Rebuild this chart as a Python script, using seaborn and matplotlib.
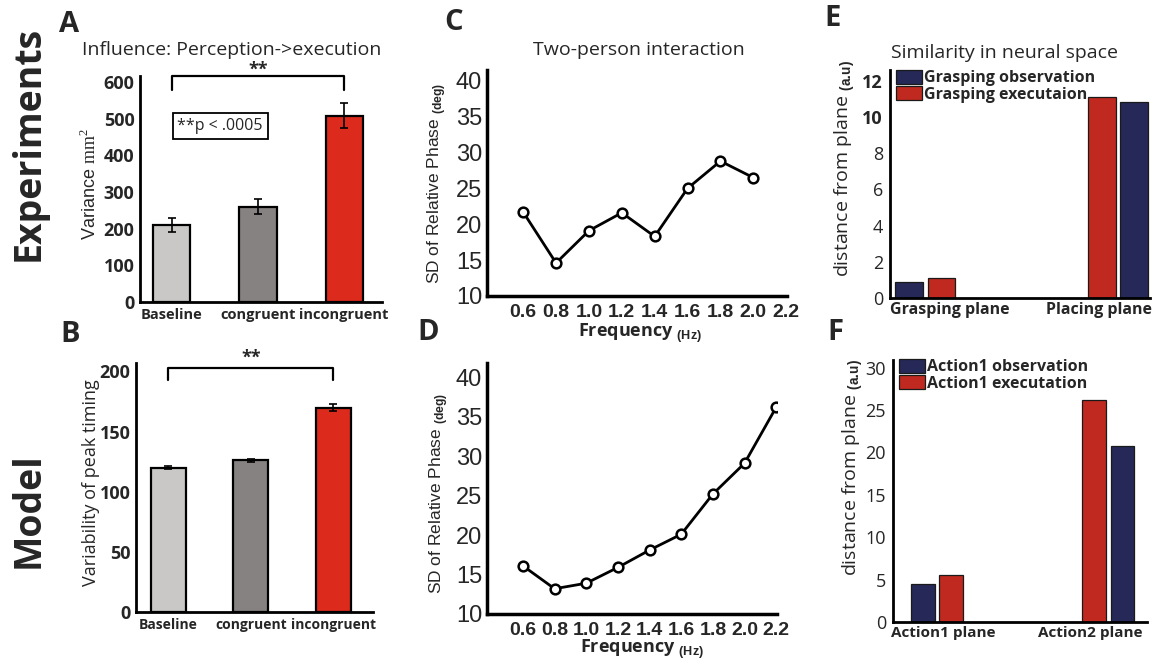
"""Figure: experiments vs model - variability, relative phase, neural distance."""

import numpy as np
import pandas as pd
import matplotlib
matplotlib.use('Agg')
import matplotlib.pyplot as plt
import seaborn as sns

sns.set_style('white')
plt.rcParams['font.family'] = ['Open Sans', 'DejaVu Sans']
plt.rcParams['mathtext.fontset'] = 'custom'
plt.rcParams['mathtext.rm'] = 'Liberation Serif'
plt.rcParams['mathtext.bf'] = 'Liberation Sans:bold'
plt.rcParams['mathtext.sf'] = 'Liberation Sans'

W, H = 1157, 661

# --- data ---
conditions = ['Baseline', 'congruent', 'incongruent']
exp_variance = [210, 260, 508]
exp_variance_err = [20, 20, 35]
model_timing = [120, 126, 170]
model_timing_err = [1.0, 1.5, 3.0]

exp_freq = [0.6, 0.8, 1.0, 1.2, 1.4, 1.6, 1.8, 2.0]
exp_sd_phase = [21.7, 14.6, 19.1, 21.6, 18.3, 25.0, 28.8, 26.5]
model_freq = [0.6, 0.8, 1.0, 1.2, 1.4, 1.6, 1.8, 2.0, 2.2]
model_sd_phase = [16.1, 13.2, 13.9, 15.9, 18.1, 20.1, 25.2, 29.1, 36.2]
freq_ticks = [0.6, 0.8, 1.0, 1.2, 1.4, 1.6, 1.8, 2.0, 2.2]

e_planes = ['Grasping plane', 'Placing plane']
e_series = ['Grasping observation', 'Grasping executaion']
e_observation = [0.9, 10.85]
e_execution = [1.1, 11.1]

f_planes = ['Action1 plane', 'Action2 plane']
f_series = ['Action1 observation', 'Action1 executation']
f_observation = [4.45, 20.8]
f_execution = [5.6, 26.2]

# bar order inside each plane (index into series): obs first, then reversed
pair_order = [[0, 1], [1, 0]]

BAR_COLORS = ['#c9c8c7', '#858281', '#dc2b1c']
NAVY = '#262858'
RED = '#c0291f'


def ax_rect(left, top, right, bottom):
    return [left / W, 1 - bottom / H, (right - left) / W, (bottom - top) / H]


def fig_text(fig, px, py, s, **kw):
    fig.text(px / W, 1 - py / H, s, ha='center', va='center', **kw)


def condition_bars(ax, values, errs, ylim, yticks, width, xfont=10.5):
    df = pd.DataFrame({'cond': conditions, 'val': values})
    sns.barplot(data=df, x='cond', y='val', hue='cond', palette=BAR_COLORS,
                saturation=1, legend=False, width=width, edgecolor='black',
                linewidth=1.6, ax=ax)
    ax.errorbar(range(len(values)), values, yerr=errs, fmt='none',
                ecolor='black', elinewidth=1.2, capsize=3, capthick=1.2)
    ax.set_ylim(*ylim)
    ax.set_yticks(yticks)
    ax.set_xlabel('')
    for s in ['top', 'right']:
        ax.spines[s].set_visible(False)
    for s in ['left', 'bottom']:
        ax.spines[s].set_linewidth(2)
        ax.spines[s].set_color('black')
    ax.tick_params(length=0, pad=4)
    for lab in ax.get_yticklabels():
        lab.set_fontweight('bold')
        lab.set_fontsize(13)
    for lab in ax.get_xticklabels():
        lab.set_fontweight('bold')
        lab.set_fontsize(xfont)


def bracket(ax, x0, x1, y, drop, star_y):
    ax.plot([x0, x0, x1, x1], [drop, y, y, drop], color='black', lw=1.6,
            clip_on=False)
    ax.text((x0 + x1) / 2, star_y, '**', ha='center', va='center',
            fontsize=13, fontweight='bold', clip_on=False)


def phase_line(ax, x, y, ylim, xlim):
    sns.lineplot(x=x, y=y, ax=ax, color='black', lw=2, marker='o',
                 markersize=7, markerfacecolor='white', markeredgecolor='black',
                 markeredgewidth=1.8)
    ax.set_xlim(*xlim)
    ax.set_ylim(*ylim)
    ax.set_yticks(range(10, 41, 5))
    ax.set_xticks(freq_ticks)
    ax.set_xticklabels([f'{v:.1f}' for v in freq_ticks], family='Liberation Sans',
                       fontweight='bold', fontsize=14)
    for lab in ax.get_yticklabels():
        lab.set_family('Liberation Sans')
        lab.set_fontsize(17)
    for s in ['top', 'right']:
        ax.spines[s].set_visible(False)
    for s in ['left', 'bottom']:
        ax.spines[s].set_linewidth(2.5)
        ax.spines[s].set_color('black')
    ax.tick_params(axis='y', length=3, width=2, pad=0.5, color='black')
    ax.tick_params(axis='x', length=4, width=2, pad=2, color='black')
    ax.set_ylabel(r'SD of Relative Phase $_{\mathbf{(deg)}}$',
                  family='Liberation Sans', fontsize=12.5)
    ax.set_xlabel(r'Frequency $_{\mathbf{(Hz)}}$', fontweight='bold', fontsize=13)


def paired_bars(ax, planes, series, obs, exe, ylim, yticks, gap=4, width=0.86):
    values = [obs, exe]
    rows, slots = [], []
    for i, plane in enumerate(planes):
        if i > 0:
            slots += [' ' * (k + 1) for k in range(gap)]
        for j in pair_order[i]:
            slot = f'{plane}-{j}'
            slots.append(slot)
            rows.append({'slot': slot, 'value': values[j][i], 'series': series[j]})
    df = pd.DataFrame(rows)
    sns.barplot(data=df, x='slot', y='value', hue='series', order=slots,
                hue_order=series, palette=[NAVY, RED], saturation=1, dodge=False,
                width=width, edgecolor='#1a1a1a', linewidth=0.9, ax=ax)
    ax.set_ylim(*ylim)
    ax.set_yticks(yticks)
    ax.set_xlabel('')
    for s in ['top', 'right']:
        ax.spines[s].set_visible(False)
    for s in ['left', 'bottom']:
        ax.spines[s].set_linewidth(2)
        ax.spines[s].set_color('black')
    ax.tick_params(axis='y', length=3, width=1, pad=2, labelsize=13)
    ax.tick_params(axis='x', length=0, pad=3)
    ax.set_ylabel(r'distance from plane $_{\mathbf{(a.\!u)}}$', fontsize=14)
    handles, labels = ax.get_legend_handles_labels()
    ax.legend(handles, labels, loc='upper left', bbox_to_anchor=(0.0, 1.03),
              frameon=False, borderaxespad=0, handlelength=1.6, handleheight=1.0,
              handletextpad=0.1, labelspacing=0.0,
              prop={'weight': 'bold', 'size': 11.5})


fig = plt.figure(figsize=(W / 100, H / 100), dpi=100)

# A - experiment variance
axA = fig.add_axes(ax_rect(140, 76, 382, 302))
condition_bars(axA, exp_variance, exp_variance_err, (0, 616), range(0, 601, 100), 0.43)
axA.set_xlim(-0.37, 2.44)
axA.set_ylabel(r'Variance $\mathrm{mm}^2$', family='Liberation Sans', fontsize=13)
axA.yaxis.set_label_coords(-0.165, 0.52)
bracket(axA, 0, 2, 615, 578, 632)
axA.text(0.56, 480, '**p < .0005', ha='center', va='center', fontsize=11.5,
         bbox=dict(boxstyle='square,pad=0.3', fc='white', ec='black', lw=1.3))
axA.set_title('Influence: Perception->execution', fontsize=14, pad=15, x=0.38)

# B - model timing variability
axB = fig.add_axes(ax_rect(136, 363, 373, 612))
condition_bars(axB, model_timing, model_timing_err, (0, 207), range(0, 201, 50),
               0.42, xfont=10)
axB.set_xlim(-0.39, 2.48)
axB.set_ylabel('Variability of peak timing', fontsize=13)
axB.yaxis.set_label_coords(-0.152, 0.52)
bracket(axB, 0, 2, 203, 193, 211)

# C - experiment relative phase
axC = fig.add_axes(ax_rect(487, 70, 787, 296))
phase_line(axC, exp_freq, exp_sd_phase, (10, 41.5), (0.38, 2.205))
axC.yaxis.set_label_coords(-0.13, 0.5)
axC.xaxis.set_label_coords(0.51, -0.115)
axC.set_title('Two-person interaction', fontsize=14, pad=11, x=0.507)

# D - model relative phase
axD = fig.add_axes(ax_rect(487, 363, 777, 614))
phase_line(axD, model_freq, model_sd_phase, (10, 41.8), (0.373, 2.205))
axD.yaxis.set_label_coords(-0.128, 0.48)
axD.xaxis.set_label_coords(0.536, -0.095)

# E - neural space, experiments
axE = fig.add_axes(ax_rect(890, 70, 1150, 298))
paired_bars(axE, e_planes, e_series, e_observation, e_execution,
            (0, 12.6), range(0, 13, 2))
axE.set_xlim(-0.6, 7.5)
axE.set_xticks([1.25, 5.9])
axE.set_xticklabels(e_planes, fontweight='bold', fontsize=11.5)
for lab in axE.get_yticklabels()[-2:]:
    lab.set_fontweight('bold')
axE.yaxis.set_label_coords(-0.127, 0.57)
axE.set_title('Similarity in neural space', fontsize=14, pad=9, x=0.44)

# F - neural space, model
axF = fig.add_axes(ax_rect(893, 360, 1147, 622))
paired_bars(axF, f_planes, f_series, f_observation, f_execution,
            (0, 30.9), range(0, 31, 5), width=0.84)
axF.set_xlim(-1.05, 7.86)
axF.set_xticks([0.7, 5.86])
axF.set_xticklabels(f_planes, fontweight='bold', fontsize=11)
axF.yaxis.set_label_coords(-0.11, 0.59)

# row labels and panel letters
fig_text(fig, 29, 143, 'Experiments', rotation=90, fontsize=27, fontweight='bold')
fig_text(fig, 29, 510, 'Model', rotation=90, fontsize=27, fontweight='bold')
for letter, px, py in [('A', 69, 24), ('B', 70, 335), ('C', 454, 23),
                       ('D', 428, 333), ('E', 833, 19), ('F', 835, 333)]:
    fig_text(fig, px, py, letter, fontsize=21, fontweight='bold')

plt.savefig('out.png', dpi=100)
plt.close()
